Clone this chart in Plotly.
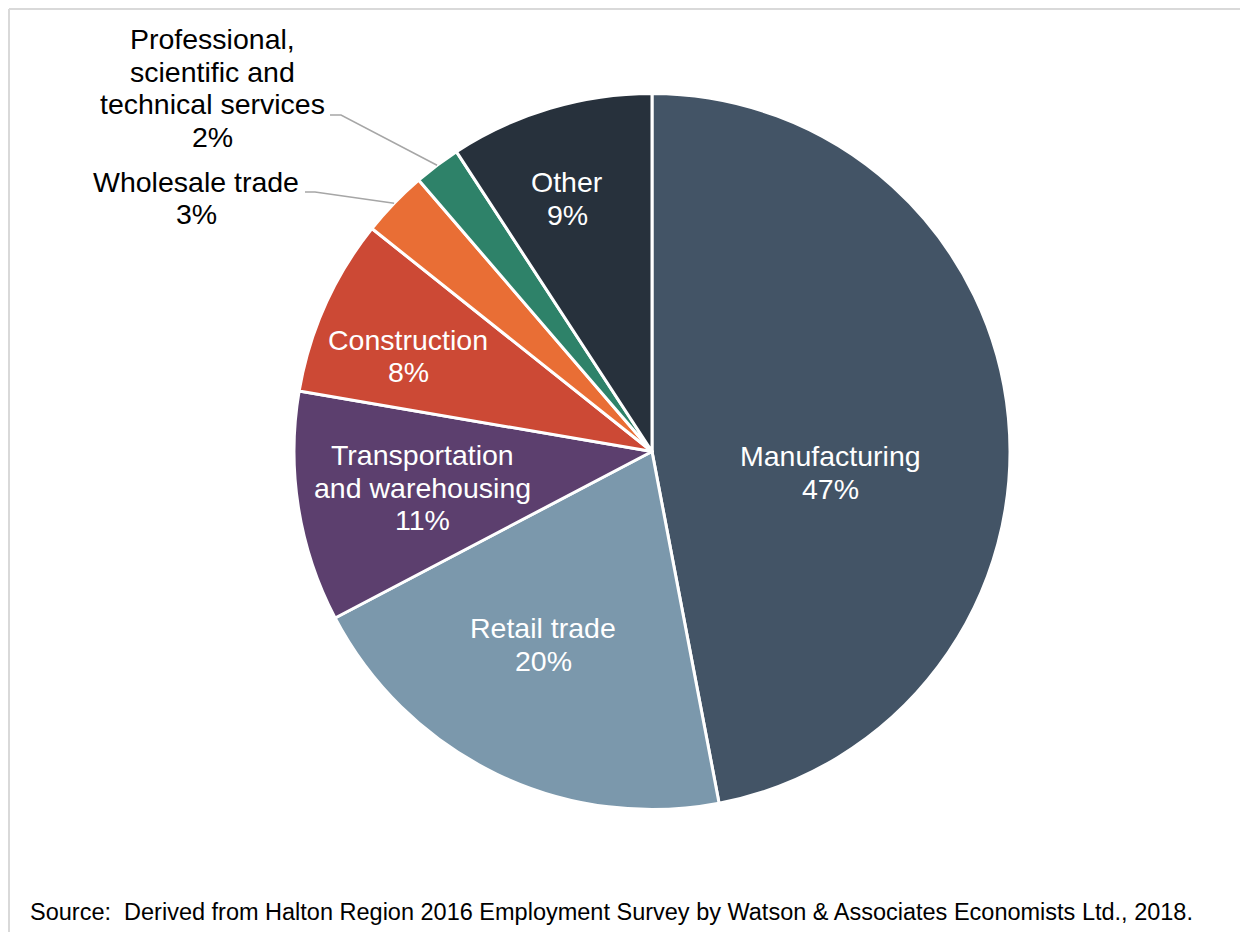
import math
import plotly.graph_objects as go

# employment share by sector
sectors = ["Manufacturing", "Retail trade", "Transportation and warehousing",
           "Construction", "Wholesale trade",
           "Professional, scientific and technical services", "Other"]
shares = [47.0, 20.3, 10.4, 8.0, 3.0, 2.1, 9.2]
pct_labels = ["47%", "20%", "11%", "8%", "3%", "2%", "9%"]
colors = ["#435466", "#7b98ac", "#5c3f6e", "#cc4935", "#e96e35", "#2e8269", "#27313c"]

# how each label is broken into lines on the chart
label_lines = [["Manufacturing"], ["Retail trade"], ["Transportation", "and warehousing"],
               ["Construction"], ["Wholesale trade"],
               ["Professional,", "scientific and", "technical services"], ["Other"]]

# the page puts an 8px body margin top/left of the figure, so shift everything by that
OFF = 8
W, H = 1248 - OFF, 932 - OFF
cx, cy, R = 652, 451.5, 358   # pie centre / radius in window px
FONT = "Liberation Sans, Arial, sans-serif"
FS = 28.5
LINE_H = 32.5

def px(x):
    return (x - OFF) / W

def py(y):
    return 1 - (y - OFF) / H

fig = go.Figure()
fig.add_trace(go.Pie(
    labels=sectors, values=shares, sort=False, direction="clockwise", rotation=0,
    marker=dict(colors=colors, line=dict(color="white", width=3)),
    textinfo="none", hoverinfo="label+percent", showlegend=False,
    domain=dict(x=[px(cx - R), px(cx + R)], y=[py(cy + R), py(cy - R)]),
))

# label anchor (centre x, middle of first line y) of each label
label_pos = [(830, 456), (543, 628), (422, 455), (408, 340), (196, 181.5), (212, 39), (567, 182)]
outside = [False, False, False, False, True, True, False]
# where the leader line bends before the text (only for outside labels)
elbows = {4: ((305, 192), (315, 192)), 5: ((330, 115), (341, 115))}

annotations = []
for i, lines in enumerate(label_lines):
    x0, y0 = label_pos[i]
    col = "black" if outside[i] else "white"
    for j, t in enumerate(lines + [pct_labels[i]]):
        annotations.append(dict(
            x=px(x0), y=py(y0 + j * LINE_H), xref="paper", yref="paper",
            text=t, showarrow=False, xanchor="center", yanchor="middle",
            font=dict(family=FONT, size=FS, color=col)))

# leader lines for the two thin slices
shapes = []
total = sum(shares)
cum = 0
for i, v in enumerate(shares):
    mid = (cum + v / 2) / total * 2 * math.pi
    cum += v
    if i in elbows:
        sx = cx + R * math.sin(mid)
        sy = cy - R * math.cos(mid)
        (ax, ay), (bx, by) = elbows[i]
        path = f"M {px(ax)},{py(ay)} L {px(bx)},{py(by)} L {px(sx)},{py(sy)}"
        shapes.append(dict(type="path", path=path, xref="paper", yref="paper",
                           line=dict(color="#a6a6a6", width=1.5)))

# chart frame (only top and left edges fall inside the picture)
shapes.append(dict(type="line", xref="paper", yref="paper", x0=px(9), y0=py(9), x1=1, y1=py(9),
                   line=dict(color="#d9d9d9", width=2)))
shapes.append(dict(type="line", xref="paper", yref="paper", x0=px(9), y0=py(9), x1=px(9), y1=0,
                   line=dict(color="#d9d9d9", width=2)))

annotations.append(dict(
    x=px(28), y=py(912), xref="paper", yref="paper", showarrow=False,
    xanchor="left", yanchor="middle",
    text="Source:  Derived from Halton Region 2016 Employment Survey by Watson & Associates Economists Ltd., 2018.",
    font=dict(family=FONT, size=23.5, color="black")))

fig.update_layout(
    width=W, height=H, margin=dict(l=0, r=0, t=0, b=0),
    paper_bgcolor="white", plot_bgcolor="white",
    annotations=annotations, shapes=shapes,
)

fig.write_html("out.html")
